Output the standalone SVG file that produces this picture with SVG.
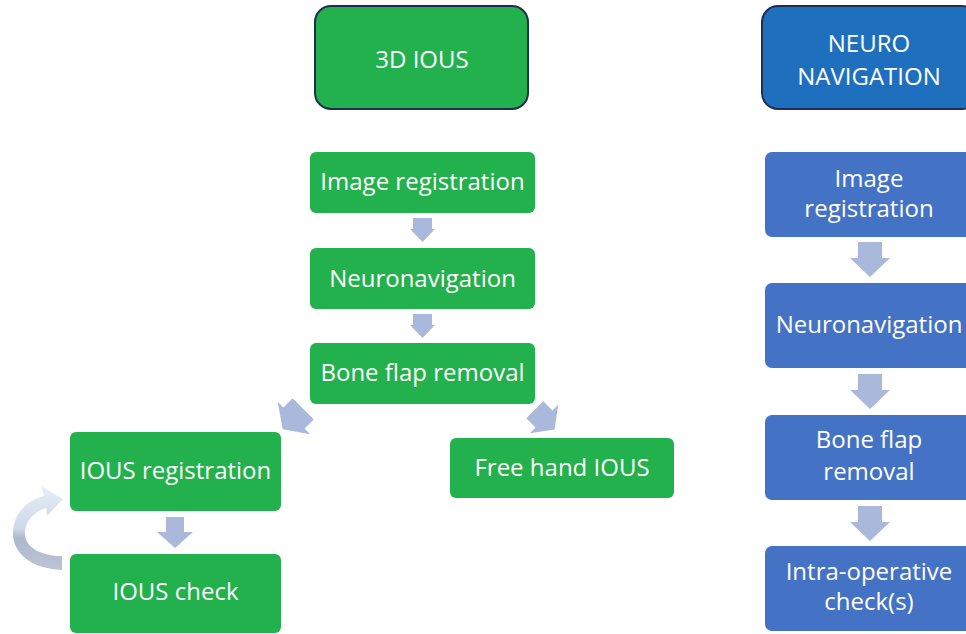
<svg xmlns="http://www.w3.org/2000/svg" width="966" height="634" viewBox="0 0 966 634">
<defs>
<style>
.t{font-family:"Open Sans","Noto Sans","DejaVu Sans",sans-serif;font-size:24px;fill:#ffffff;text-anchor:middle}
.g{fill:#22B14C}
.b{fill:#4472C4}
.hdr{stroke:#1f2d50;stroke-width:2}
.arr{fill:#AAB8DC}
</style>
<linearGradient id="cg" x1="0" y1="486" x2="0" y2="570" gradientUnits="userSpaceOnUse">
<stop offset="0" stop-color="#e6edf7"/>
<stop offset="0.5" stop-color="#cfd9ea"/>
<stop offset="0.62" stop-color="#aeb8cc"/>
<stop offset="1" stop-color="#bcc5d6"/>
</linearGradient>
</defs>
<rect width="966" height="634" fill="#ffffff"/>
<g id="n-3dious"><rect class="g hdr" x="315" y="6" width="213" height="103" rx="16"/><text class="t" x="422" y="68">3D IOUS</text></g>
<g id="n-neuronav"><rect class="hdr" fill="#1F6FBF" x="762" y="6" width="216" height="103" rx="16"/><text class="t" x="869" y="52">NEURO</text><text class="t" x="869" y="85">NAVIGATION</text></g>
<g id="n-g-imgreg"><rect class="g" x="310" y="152" width="225" height="61" rx="6"/><text class="t" x="422.5" y="190">Image registration</text></g>
<g id="n-g-neuro"><rect class="g" x="310" y="248" width="225" height="61" rx="6"/><text class="t" x="422.5" y="287">Neuronavigation</text></g>
<g id="n-g-bone"><rect class="g" x="310" y="343" width="225" height="61" rx="6"/><text class="t" x="422.5" y="381">Bone flap removal</text></g>
<g id="n-g-iousreg"><rect class="g" x="70" y="432" width="211" height="79" rx="6"/><text class="t" x="175.5" y="479">IOUS registration</text></g>
<g id="n-g-iouscheck"><rect class="g" x="70" y="554" width="211" height="79" rx="6"/><text class="t" x="175.5" y="600">IOUS check</text></g>
<g id="n-g-free"><rect class="g" x="450" y="438" width="224" height="60" rx="6"/><text class="t" x="562" y="476">Free hand IOUS</text></g>
<g id="n-b-imgreg"><rect class="b" x="765" y="152" width="210" height="85" rx="7"/><text class="t" x="869" y="187">Image</text><text class="t" x="869" y="217">registration</text></g>
<g id="n-b-neuro"><rect class="b" x="765" y="283" width="210" height="85" rx="7"/><text class="t" x="869" y="333">Neuronavigation</text></g>
<g id="n-b-bone"><rect class="b" x="765" y="415" width="210" height="85" rx="7"/><text class="t" x="869" y="448">Bone flap</text><text class="t" x="869" y="480">removal</text></g>
<g id="n-b-check"><rect class="b" x="765" y="546" width="210" height="85" rx="7"/><text class="t" x="869" y="580">Intra-operative</text><text class="t" x="869" y="610">check(s)</text></g>
<g id="connectors">
<path class="arr" d="M413,218 H432 V229 H435 L422.5,242 L410,229 H413 Z"/>
<path class="arr" d="M413,314 H432 V325 H435 L422.5,338 L410,325 H413 Z"/>
<path class="arr" transform="translate(294,418) rotate(45)" d="M-15,-13 H15 V0 H23 L0,16 L-23,0 H-15 Z"/>
<path class="arr" transform="translate(544,419) rotate(-45)" d="M-12,-13 H12 V0 H20 L0,15 L-20,0 H-12 Z"/>
<path class="arr" d="M166,517 H184 V532 H193 L175,548 L157,532 H166 Z"/>
<path class="arr" d="M858,242 H882 V258 H890 L870,277 L850,258 H858 Z"/>
<path class="arr" d="M858,374 H882 V390 H890 L870,409 L850,390 H858 Z"/>
<path class="arr" d="M858,506 H882 V522 H890 L870,541 L850,522 H858 Z"/>
<path fill="url(#cg)" d="M62,570 C30,569 12,552 13,532 C14,512 28,500 44,496 L41,486 L63,499 L47,516 L46,508 C32,512 24,524 25,535 C26,548 42,556 62,556 Z"/>
</g>
</svg>
